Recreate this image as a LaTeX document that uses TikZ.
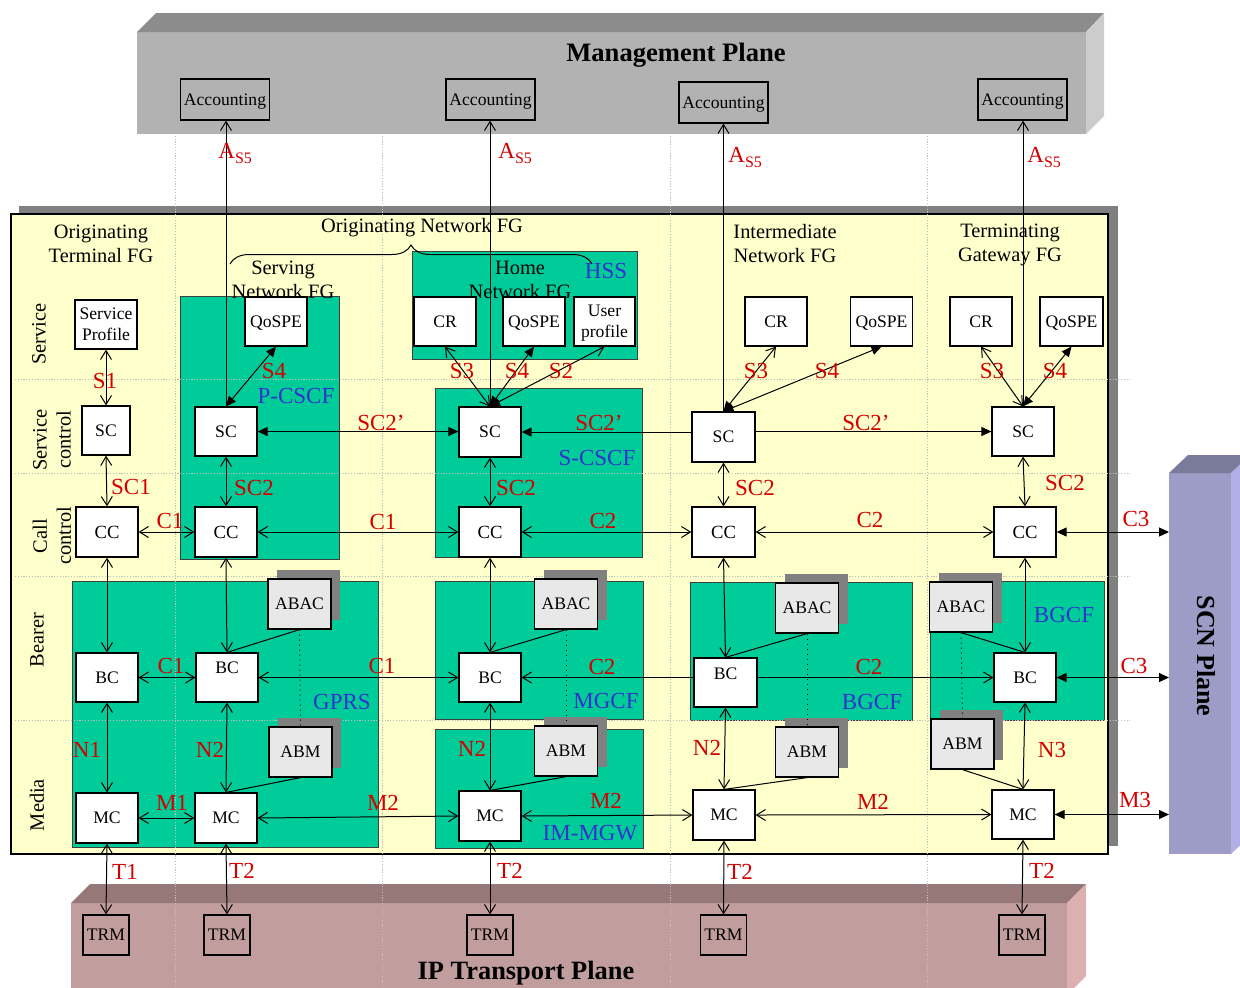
\documentclass[tikz,border=0pt]{standalone}
\usepackage{fontspec}
\setmainfont{Liberation Serif}
\usetikzlibrary{arrows.meta,decorations.pathreplacing,shadows}
\definecolor{mgfront}{HTML}{B2B2B2}
\definecolor{mgtop}{HTML}{8C8C8C}
\definecolor{mgside}{HTML}{CCCCCC}
\definecolor{ipfront}{HTML}{C29D9D}
\definecolor{iptop}{HTML}{967878}
\definecolor{ipside}{HTML}{DDB0B0}
\definecolor{scnfront}{HTML}{9C9CC6}
\definecolor{scntop}{HTML}{7A7A9A}
\definecolor{scnside}{HTML}{B0B0E6}
\definecolor{yel}{HTML}{FFFFCC}
\definecolor{grn}{HTML}{00CC99}
\definecolor{lblred}{HTML}{D40000}
\definecolor{lblblue}{HTML}{3333CC}
\definecolor{abfill}{HTML}{E8E8E8}
\definecolor{abshadow}{HTML}{808080}
\tikzset{
  OB/.tip={Straight Barb[length=4.5pt,width=5.5pt]},
  FB/.tip={Triangle[length=5pt,width=4.5pt]},
}
\begin{document}
\begin{tikzpicture}[x=0.5pt,y=-0.5pt,
  every node/.style={inner sep=0pt},
  wbox/.style={draw=black,line width=0.6pt,fill=white,minimum width=31pt,minimum height=24.5pt,font=\fontsize{8.8}{10.5}\selectfont,align=center,text depth=0pt},
  ccbox/.style={wbox,minimum height=25pt,font=\fontsize{9.3}{10.5}\selectfont},
  abox/.style={wbox,fill=abfill,minimum width=31.5pt,minimum height=25pt,drop shadow={shadow xshift=4.5pt,shadow yshift=4.5pt,fill=abshadow,opacity=1}},
  accbox/.style={draw=black,line width=0.6pt,minimum width=44.5pt,minimum height=20.5pt,font=\fontsize{8.8}{10}\selectfont,text depth=0pt},
  trmbox/.style={draw=black,line width=0.6pt,minimum width=23pt,minimum height=20pt,font=\fontsize{8.8}{10}\selectfont},
  redlbl/.style={text=lblred,font=\fontsize{11.5}{12}\selectfont},
  bluelbl/.style={text=lblblue,font=\fontsize{11.5}{12}\selectfont},
  txtlbl/.style={font=\fontsize{10.2}{12}\selectfont,align=center},
  gridln/.style={draw=gray!50,line width=0.5pt,dash pattern=on 0.6pt off 0.8pt},
  grnbox/.style={fill=grn,draw=black!75,line width=0.5pt},
  conn/.style={line width=0.5pt},
]
\useasboundingbox (0,0) rectangle (1240,987);

% ---------- planes ----------
\fill[mgfront] (137,32) rectangle (1086,134);
\fill[mgtop] (137,32) -- (156,13) -- (1104,13) -- (1086,32) -- cycle;
\fill[mgside] (1086,32) -- (1104,13) -- (1104,116) -- (1086,134) -- cycle;

\fill[ipfront] (71,903) rectangle (1067,995);
\fill[iptop] (71,903) -- (90,884) -- (1086,884) -- (1067,903) -- cycle;
\fill[ipside] (1067,903) -- (1086,884) -- (1086,976) -- (1067,995) -- cycle;

\fill[scnfront] (1169,473) rectangle (1231,854);
\fill[scntop] (1169,473) -- (1188,455) -- (1250,455) -- (1231,473) -- cycle;
\fill[scnside] (1231,473) -- (1250,455) -- (1250,836) -- (1231,854) -- cycle;
\coordinate (scnL) at (1169,0);

\fill[abshadow] (19,206) rectangle (1118,846);
\draw[fill=yel,line width=0.6pt] (11,214) rectangle (1108,854);

% ---------- green groups ----------
\draw[grnbox] (180,296) rectangle (339,559);
\draw[grnbox] (412,251) rectangle (637,359);
\draw[grnbox] (435,388) rectangle (642,557);
\draw[grnbox] (72,581) rectangle (378,847);
\draw[grnbox] (435,581) rectangle (643,719);
\draw[grnbox] (435,729) rectangle (643,848);
\draw[grnbox] (690,582) rectangle (912,720);
\draw[grnbox] (930,581) rectangle (1104,720);

% ---------- grid lines ----------
\foreach \gx in {175,382,670,927} \draw[gridln] (\gx,133) -- (\gx,987);
\foreach \gy in {379,473,576,720} \draw[gridln] (15,\gy) -- (1130,\gy);

% ---------- plane titles and texts ----------
\node[font=\bfseries\fontsize{13.3}{15}\selectfont,text depth=0pt] (mpt) at (676,52) {Management Plane};
\node[font=\bfseries\fontsize{13.2}{15}\selectfont,text depth=0pt] (ipt) at (526,970) {IP Transport Plane};
\node[font=\bfseries\fontsize{13}{15}\selectfont,rotate=-90] (scnt) at (1206,656) {SCN Plane};

\node[txtlbl] (tOT) at (101,244) {Originating\\Terminal FG};
\node[txtlbl] (tON) at (422,228) {Originating Network FG};
\node[txtlbl] (tSN) at (283,280) {Serving\\Network FG};
\node[txtlbl] (tHN) at (520,280) {Home\\Network FG};
\node[txtlbl] (tIN) at (785,244) {Intermediate\\Network FG};
\node[txtlbl] (tTG) at (1010,245) {Terminating\\Gateway FG};
\draw[conn,decorate,decoration={brace,amplitude=9.5pt}] (230,264) -- (592,264);

\node[txtlbl,rotate=90] (rS) at (39,334) {Service};
\node[txtlbl,rotate=90] (rSC) at (52,440) {Service\\control};
\node[txtlbl,rotate=90] (rCC) at (52,536) {Call\\control};
\node[txtlbl,rotate=90] (rB) at (37,640) {Bearer};
\node[txtlbl,rotate=90] (rM) at (37,805) {Media};

% ---------- boxes ----------
\node[accbox] (acc1) at (225,99.5) {Accounting};
\node[accbox] (acc2) at (490.5,99.5) {Accounting};
\node[accbox] (acc3) at (723.5,102.5) {Accounting};
\node[accbox] (acc4) at (1022.5,99.5) {Accounting};

\node[wbox] (sp) at (106,324.5) {Service\\Profile};
\node[wbox] (q1) at (276,321.5) {QoSPE};
\node[wbox,minimum width=24pt] (sc1) at (106,430.5) {SC};
\node[wbox] (sc2) at (226,431.5) {SC};
\node[ccbox] (cc1) at (107,532) {CC};
\node[ccbox] (cc2) at (226,532) {CC};

\node[wbox] (cr1) at (445,321.5) {CR};
\node[wbox] (q2) at (534,321.5) {QoSPE};
\node[wbox,minimum width=30.5pt] (up) at (604.5,321.5) {User\\profile};
\node[wbox,minimum height=25pt] (sc3) at (490,432) {SC};
\node[ccbox] (cc3) at (490,532) {CC};

\node[wbox] (cr2) at (776,321.5) {CR};
\node[wbox] (q3) at (881.5,321.5) {QoSPE};
\node[wbox,minimum width=31.5pt,minimum height=25pt] (sc4) at (723.5,437) {SC};
\node[ccbox,minimum width=31.5pt] (cc4) at (723.5,532) {CC};

\node[wbox] (cr3) at (981,321.5) {CR};
\node[wbox,minimum width=31.5pt] (q4) at (1071.5,321.5) {QoSPE};
\node[wbox] (sc5) at (1023,431.5) {SC};
\node[ccbox] (cc5) at (1025,532) {CC};

\node[wbox] (bc1) at (107,677.5) {BC};
\node[wbox] (bc2) at (227,677.5) {\raisebox{10pt}{BC}};
\node[wbox] (bc3) at (490,677.5) {BC};
\node[wbox,minimum width=31.5pt] (bc4) at (725.5,682.5) {\raisebox{9pt}{BC}};
\node[wbox] (bc5) at (1025,677.5) {BC};

\node[wbox,minimum height=25pt] (mc1) at (107,818) {MC};
\node[wbox,minimum height=25pt] (mc2) at (226,818) {MC};
\node[wbox,minimum height=25pt] (mc3) at (490,816) {MC};
\node[wbox,minimum height=25pt] (mc4) at (724,815) {MC};
\node[wbox] (mc5) at (1023,814.5) {MC};

\node[abox] (abac1) at (299.5,604) {ABAC};
\node[abox] (abm1) at (300.5,752) {ABM};
\node[abox] (abac2) at (566,604) {ABAC};
\node[abox] (abm2) at (566,751) {ABM};
\node[abox] (abac3) at (807,608) {ABAC};
\node[abox] (abm3) at (807,752) {ABM};
\node[abox] (abac4) at (961,607) {ABAC};
\node[abox] (abm4) at (962.5,744) {ABM};

\node[trmbox] (trm1) at (106,935) {TRM};
\node[trmbox] (trm2) at (227,935) {TRM};
\node[trmbox] (trm3) at (490,935) {TRM};
\node[trmbox] (trm4) at (723.5,935) {TRM};
\node[trmbox] (trm5) at (1022,935) {TRM};

% ---------- connectors ----------
\draw[conn,-OB] (sc2.north) -- (sc2.north |- acc1.south);
\draw[conn,-OB] (sc3.north) -- (sc3.north |- acc2.south);
\draw[conn,-OB] (sc4.north) -- (sc4.north |- acc3.south);
\draw[conn,-OB] (sc5.north) -- (sc5.north |- acc4.south);

\draw[conn,OB-OB] (sp.south) -- (sc1.north);
\draw[conn,OB-OB] (sc1.south) -- (cc1.north);
\draw[conn,OB-OB] (cc1.east) -- (cc2.west);
\draw[conn,FB-FB] (q1.south) -- (sc2.north);
\draw[conn,OB-OB] (sc2.south) -- (cc2.north);
\draw[conn,FB-FB] (sc2.east) -- (sc3.west |- sc2.east);
\draw[conn,OB-OB] (cc2.east) -- (cc3.west);
\draw[conn,OB-OB] (cr1.south) -- (sc3.north);
\draw[conn,FB-FB] (q2.south) -- (sc3.north);
\draw[conn,OB-FB] (up.south) -- (sc3.north);
\draw[conn,OB-OB] (sc3.south) -- (cc3.north);
\draw[conn,-FB] (sc4.west |- sc3.east) -- (sc3.east);
\draw[conn,OB-OB] (cc3.east) -- (cc4.west);
\draw[conn,OB-FB] (cr2.south) -- (sc4.north);
\draw[conn,FB-FB] (q3.south) -- (sc4.north);
\draw[conn,OB-OB] (sc4.south) -- (cc4.north);
\draw[conn,-FB] (sc4.east |- sc5.west) -- (sc5.west);
\draw[conn,OB-OB] (cc4.east) -- (cc5.west);
\draw[conn,OB-OB] (cr3.south) -- (sc5.north);
\draw[conn,FB-FB] (q4.south) -- (sc5.north);
\draw[conn,OB-OB] (sc5.south) -- (cc5.north);
\draw[conn,FB-FB] (cc5.east) -- (cc5.east -| scnL);

\draw[conn,OB-OB] (cc1.south) -- (bc1.north);
\draw[conn,OB-OB] (cc2.south) -- (bc2.north);
\draw[conn,OB-OB] (cc3.south) -- (bc3.north);
\draw[conn,OB-OB] (cc4.south) -- (bc4.north);
\draw[conn,OB-OB] (cc5.south) -- (bc5.north);
\draw[conn,OB-OB] (bc1.east) -- (bc2.west);
\draw[conn,OB-OB] (bc2.east) -- (bc3.west);
\draw[conn,-OB] (bc4.west |- bc3.east) -- (bc3.east);
\draw[conn,-OB] (bc4.east |- bc5.west) -- (bc5.west);
\draw[conn,FB-FB] (bc5.east) -- (bc5.east -| scnL);

\draw[conn] (abac1.south) -- (bc2.north);
\draw[conn] (abm1.south) -- (mc2.north);
\draw[conn,dotted] (abac1.south) -- (abm1.north);
\draw[conn] (abac2.south) -- (bc3.north);
\draw[conn] (abm2.south) -- (mc3.north);
\draw[conn,dotted] (abac2.south) -- (abm2.north);
\draw[conn] (abac3.south) -- (bc4.north);
\draw[conn] (abm3.south) -- (mc4.north);
\draw[conn,dotted] (abac3.south) -- (abm3.north);
\draw[conn] (abac4.south) -- (bc5.north);
\draw[conn] (abm4.south) -- (mc5.north);
\draw[conn,dotted] (abac4.south) -- (abm4.north);

\draw[conn,OB-OB] (bc1.south) -- (mc1.north);
\draw[conn,OB-OB] (bc2.south) -- (mc2.north);
\draw[conn,OB-OB] (bc3.south) -- (mc3.north);
\draw[conn,OB-OB] (bc4.south) -- (mc4.north);
\draw[conn,OB-OB] (bc5.south) -- (mc5.north);
\draw[conn,OB-OB] (mc1.east) -- (mc2.west);
\draw[conn,OB-OB] (mc2.east) -- (mc3.west);
\draw[conn,OB-OB] (mc3.east) -- (mc4.west);
\draw[conn,OB-OB] (mc4.east) -- (mc5.west);
\draw[conn,FB-FB] (mc5.east) -- (mc5.east -| scnL);

\draw[conn,OB-OB] (mc1.south) -- (trm1.north);
\draw[conn,OB-OB] (mc2.south) -- (trm2.north);
\draw[conn,OB-OB] (mc3.south) -- (trm3.north);
\draw[conn,OB-OB] (mc4.south) -- (trm4.north);
\draw[conn,OB-OB] (mc5.south) -- (trm5.north);

% ---------- labels ----------
\node[redlbl,anchor=base west] (as1) at (218,158) {A\raisebox{-2.5pt}{\fontsize{8}{9}\selectfont S5}};
\node[redlbl,anchor=base west] (as2) at (498,158) {A\raisebox{-2.5pt}{\fontsize{8}{9}\selectfont S5}};
\node[redlbl,anchor=base west] (as3) at (728,162) {A\raisebox{-2.5pt}{\fontsize{8}{9}\selectfont S5}};
\node[redlbl,anchor=base west] (as4) at (1027,162) {A\raisebox{-2.5pt}{\fontsize{8}{9}\selectfont S5}};

\node[redlbl] (lS1) at (105,381) {S1};
\node[redlbl] (lSC1) at (131,487) {SC1};
\node[redlbl] (lC1a) at (170,521) {C1};
\node[redlbl] (lS4a) at (274,371) {S4};
\node[redlbl] (lSC2a) at (254,488) {SC2};
\node[redlbl] (lSCpa) at (381,423) {SC2’};
\node[redlbl] (lC1b) at (383,522) {C1};
\node[redlbl] (lS3a) at (462,371) {S3};
\node[redlbl] (lS4b) at (517,371) {S4};
\node[redlbl] (lS2) at (561,371) {S2};
\node[redlbl] (lSCpb) at (599,423) {SC2’};
\node[redlbl] (lSC2b) at (516,488) {SC2};
\node[redlbl] (lC2a) at (603,521) {C2};
\node[redlbl] (lS3b) at (756,371) {S3};
\node[redlbl] (lS4c) at (827,371) {S4};
\node[redlbl] (lSC2c) at (755,488) {SC2};
\node[redlbl] (lSCpc) at (866,423) {SC2’};
\node[redlbl] (lC2b) at (870,520) {C2};
\node[redlbl] (lS3c) at (992,371) {S3};
\node[redlbl] (lS4d) at (1055,371) {S4};
\node[redlbl] (lSC2d) at (1065,483) {SC2};
\node[redlbl] (lC3a) at (1136,519) {C3};

\node[redlbl] (lC1c) at (171,666) {C1};
\node[redlbl] (lC1d) at (382,666) {C1};
\node[redlbl] (lC2c) at (602,667) {C2};
\node[redlbl] (lC2d) at (869,667) {C2};
\node[redlbl] (lC3b) at (1134,666) {C3};

\node[redlbl] (lN1) at (87,750) {N1};
\node[redlbl] (lN2a) at (210,750) {N2};
\node[redlbl] (lN2b) at (472,749) {N2};
\node[redlbl] (lN2c) at (707,748) {N2};
\node[redlbl] (lN3) at (1052,750) {N3};

\node[redlbl] (lM1) at (172,803) {M1};
\node[redlbl] (lM2a) at (383,803) {M2};
\node[redlbl] (lM2b) at (606,801) {M2};
\node[redlbl] (lM2c) at (873,802) {M2};
\node[redlbl] (lM3) at (1135,800) {M3};

\node[redlbl] (lT1) at (125,872) {T1};
\node[redlbl] (lT2a) at (242,871) {T2};
\node[redlbl] (lT2b) at (510,871) {T2};
\node[redlbl] (lT2c) at (740,872) {T2};
\node[redlbl] (lT2d) at (1042,871) {T2};

\node[bluelbl] (bHSS) at (606,271) {HSS};
\node[bluelbl] (bP) at (296,396) {P-CSCF};
\node[bluelbl] (bS) at (597,458) {S-CSCF};
\node[bluelbl] (bG) at (342,702) {GPRS};
\node[bluelbl] (bM) at (606,701) {MGCF};
\node[bluelbl] (bI) at (590,833) {IM-MGW};
\node[bluelbl] (bB1) at (872,702) {BGCF};
\node[bluelbl] (bB2) at (1064,615) {BGCF};
\end{tikzpicture}
\end{document}
